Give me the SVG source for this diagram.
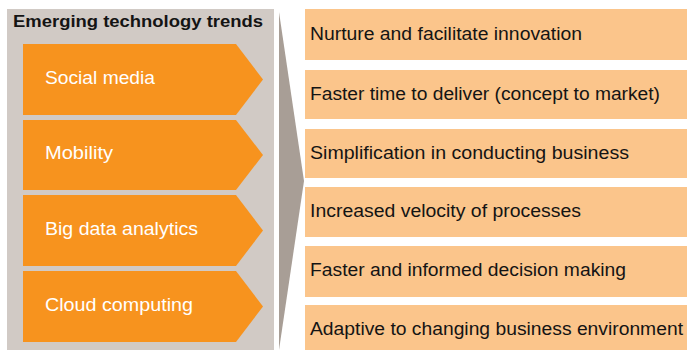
<svg xmlns="http://www.w3.org/2000/svg" width="687" height="350" viewBox="0 0 687 350">
<style>
.panel{fill:#d1cac5}
.trend{fill:#f7931e}
.wedge{fill:#a89e96}
.box{fill:#fbc58b}
.t{font-family:"Liberation Sans",Arial,sans-serif;font-size:17.5px}
.lt{fill:#ffffff}
.rt{fill:#141414}
.title{font-family:"Liberation Sans",Arial,sans-serif;font-size:16px;font-weight:bold;fill:#141414}
</style>
<rect class="panel" x="7" y="9" width="267" height="341"/>
<text class="title" x="13" y="27" textLength="250" lengthAdjust="spacingAndGlyphs">Emerging technology trends</text>
<g id="trend-social-media">
<polygon class="trend" points="23,44 236,44 263,79.5 236,115 23,115"/>
<text class="t lt" x="45" y="84" textLength="110" lengthAdjust="spacingAndGlyphs">Social media</text>
</g>
<g id="trend-mobility">
<polygon class="trend" points="23,120 236,120 263,155 236,190 23,190"/>
<text class="t lt" x="45" y="159" textLength="68" lengthAdjust="spacingAndGlyphs">Mobility</text>
</g>
<g id="trend-big-data">
<polygon class="trend" points="23,195 236,195 263,230.5 236,266 23,266"/>
<text class="t lt" x="45" y="235" textLength="153" lengthAdjust="spacingAndGlyphs">Big data analytics</text>
</g>
<g id="trend-cloud">
<polygon class="trend" points="23,271 236,271 263,306.5 236,342 23,342"/>
<text class="t lt" x="45" y="311" textLength="148" lengthAdjust="spacingAndGlyphs">Cloud computing</text>
</g>
<g id="connectors">
<polygon class="wedge" points="279,12 304,181 279,350"/>
</g>
<g id="benefit-1">
<rect class="box" x="305" y="9" width="382" height="51"/>
<text class="t rt" x="310" y="40" textLength="272" lengthAdjust="spacingAndGlyphs">Nurture and facilitate innovation</text>
</g>
<g id="benefit-2">
<rect class="box" x="305" y="70" width="382" height="49"/>
<text class="t rt" x="310" y="99.5" textLength="350" lengthAdjust="spacingAndGlyphs">Faster time to deliver (concept to market)</text>
</g>
<g id="benefit-3">
<rect class="box" x="305" y="129" width="382" height="49"/>
<text class="t rt" x="310" y="159" textLength="319" lengthAdjust="spacingAndGlyphs">Simplification in conducting business</text>
</g>
<g id="benefit-4">
<rect class="box" x="305" y="187" width="382" height="50"/>
<text class="t rt" x="310" y="216.5" textLength="271" lengthAdjust="spacingAndGlyphs">Increased velocity of processes</text>
</g>
<g id="benefit-5">
<rect class="box" x="305" y="246" width="382" height="51"/>
<text class="t rt" x="310" y="276" textLength="316" lengthAdjust="spacingAndGlyphs">Faster and informed decision making</text>
</g>
<g id="benefit-6">
<rect class="box" x="305" y="305" width="382" height="45"/>
<text class="t rt" x="310" y="335" textLength="373" lengthAdjust="spacingAndGlyphs">Adaptive to changing business environment</text>
</g>
</svg>
